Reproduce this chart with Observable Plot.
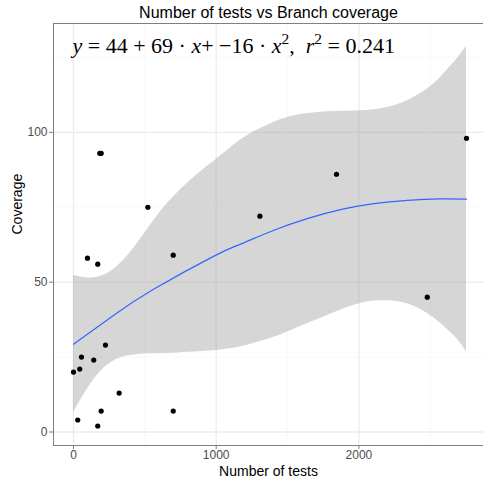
<!DOCTYPE html>
<html><head><meta charset="utf-8">
<script src="https://cdn.jsdelivr.net/npm/d3@7"></script>
<script src="https://cdn.jsdelivr.net/npm/@observablehq/plot@0.6"></script>
<style>html,body{margin:0;padding:0;background:#fff}</style>
</head><body><div id="chart"></div>
<script>
// ---- text ----
const titleText = "Number of tests vs Branch coverage";
const xLabel = "Number of tests";
const yLabel = "Coverage";
const eqSegs = [["y","i"],[" = 44 + 69 \u00B7 ",""],["x","i"],["+ \u221216 \u00B7 ",""],["x","i"],["2","s"],[",  ",""],["r","i"],["2","s"],[" = 0.241",""]];

// ---- ticks / domains ----
const xTicks = [0, 1000, 2000];
const xMinor = [500, 1500, 2500];
const yTicks = [0, 50, 100];
const yMinor = [25, 75, 125];
const xDomain = [-140, 2873];
const yDomain = [-4.5, 136.3];

// ---- observed points ----
const tests    = [0, 30, 44, 56, 98, 142, 170, 170, 184, 194, 194, 224, 320, 521, 699, 699, 1306, 1843, 2479, 2754];
const coverage = [20, 4, 21, 25, 58, 24, 56, 2, 93, 93, 7, 29, 13, 75, 59, 7, 72, 86, 45, 98];

// ---- fitted curve ----
const fitX = [0, 280, 561, 981, 1171, 1404, 1638, 1871, 2105, 2339, 2572, 2754];
const fitY = [29.3, 38.9, 47.6, 58.6, 62.7, 67.3, 71.2, 74.2, 76.2, 77.3, 77.8, 77.7];

// ---- confidence band ----
const bandX    = [0, 100, 200, 300, 400, 500, 600, 700, 800, 900, 1000, 1150, 1300, 1450, 1600, 1750, 1900, 2050, 2200, 2350, 2500, 2600, 2700, 2754];
const bandHigh = [52.2, 51.4, 52.1, 55, 60, 66.4, 72.9, 78.4, 83.1, 87.2, 90.9, 96.7, 101, 104.2, 106, 106.8, 107, 107.3, 108.3, 110.8, 115.2, 119.8, 125.2, 128.7];
const bandLow  = [6.5, 14.5, 20.7, 24.2, 25.5, 26, 26.1, 26.3, 26.6, 26.9, 27.2, 28.2, 30, 32.4, 35.4, 38.3, 41.2, 43.3, 43.8, 42.6, 38.9, 35.1, 30.4, 26.6];

const points = tests.map((t, i) => ({x: t, y: coverage[i]}));
const fit = fitX.map((x, i) => ({x, y: fitY[i]}));
const band = bandX.map((x, i) => ({x, lo: bandLow[i], hi: bandHigh[i]}));
const eqText = eqSegs.map(d => d[0]).join("");

const chart = Plot.plot({
  width: 483, height: 482,
  marginTop: 23, marginLeft: 53, marginRight: 0, marginBottom: 37,
  x: {domain: xDomain, axis: null},
  y: {domain: yDomain, axis: null},
  style: {fontFamily: "'Liberation Sans', Arial, sans-serif", fontSize: "12px", background: "#fff", color: "#4d4d4d"},
  marks: [
    Plot.ruleX(xMinor, {stroke: "#fafafa", strokeWidth: 1.2}),
    Plot.ruleY(yMinor, {stroke: "#fafafa", strokeWidth: 1.2}),
    Plot.ruleX(xTicks, {stroke: "#ebebeb", strokeWidth: 1.3}),
    Plot.ruleY(yTicks, {stroke: "#ebebeb", strokeWidth: 1.3}),
    Plot.areaY(band, {x: "x", y1: "lo", y2: "hi", fill: "#999999", fillOpacity: 0.4, curve: "natural"}),
    Plot.line(fit, {x: "x", y: "y", stroke: "#3366ff", strokeWidth: 1.2, curve: "natural"}),
    Plot.dot(points, {x: "x", y: "y", r: 2.6, fill: "black", stroke: "none"}),
    Plot.ruleX([xDomain[0]], {stroke: "#7f7f7f", strokeWidth: 1}),
    Plot.ruleY([yDomain[0], yDomain[1]], {stroke: "#7f7f7f", strokeWidth: 1}),
    Plot.axisX({ticks: xTicks, tickFormat: d => String(d), tickSize: 4, tickPadding: 1, label: null, stroke: "#7f7f7f", fill: "#4d4d4d", fontSize: 12}),
    Plot.axisY({ticks: yTicks, tickFormat: d => String(d), tickSize: 4, tickPadding: 2, label: null, stroke: "#7f7f7f", fill: "#4d4d4d", fontSize: 12}),
    Plot.text([titleText], {frameAnchor: "top", lineAnchor: "middle", dy: -10.5, fontSize: 16, fill: "black"}),
    Plot.text([xLabel], {frameAnchor: "bottom", lineAnchor: "middle", dy: 26.5, fontSize: 14, fill: "black"}),
    Plot.text([yLabel], {frameAnchor: "left", lineAnchor: "middle", dx: -36, rotate: -90, fontSize: 14, fill: "black"}),
    Plot.text([eqText], {frameAnchor: "top-left", lineAnchor: "middle", dx: 19, dy: 22.8, textAnchor: "start", fontSize: 22, fontFamily: "'Liberation Serif', 'Times New Roman', serif", fill: "black"})
  ]
});
document.getElementById("chart").appendChild(chart);

// rich-format the equation (italic variables, superscripts)
d3.select(chart).selectAll("text").filter(function(){ return this.textContent === eqText; }).each(function(){
  const t = d3.select(this);
  t.text(null);
  let shifted = false;
  eqSegs.forEach(([s, k]) => {
    const sp = t.append("tspan").text(s);
    if (k === "i") sp.attr("font-style", "italic");
    if (k === "s") { sp.attr("font-size", "0.7em").attr("dy", "-0.6em"); shifted = true; }
    else if (shifted) { sp.attr("dy", "0.42em"); shifted = false; }
  });
});
</script>
</body></html>
